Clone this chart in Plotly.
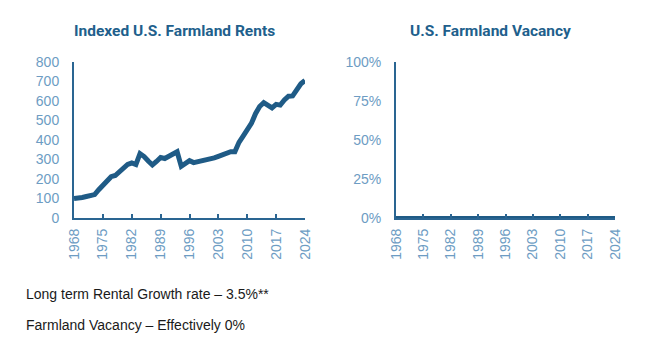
import plotly.graph_objects as go

years = list(range(1968, 2025))
rent_index = [100, 101, 105, 110, 115, 120, 145, 168, 190, 212,
              218, 240, 262, 275, 282, 274, 330, 315, 292, 272,
              290, 310, 305, 316, 328, 340, 265, 280, 294, 284,
              288, 293, 297, 302, 308, 316, 325, 336, 340, 340,
              388, 420, 450, 485, 535, 572, 592, 578, 565, 583,
              579, 605, 625, 626, 660, 688, 705]
vacancy = [0.0] * len(years)

left_title = "Indexed U.S. Farmland Rents"
right_title = "U.S. Farmland Vacancy"
note1 = "Long term Rental Growth rate – 3.5%**"
note2 = "Farmland Vacancy – Effectively 0%"
x_ticks = [1968, 1975, 1982, 1989, 1996, 2003, 2010, 2017, 2024]
rent_ticks = [0, 100, 200, 300, 400, 500, 600, 700, 800]
vac_ticks = [0, 0.25, 0.5, 0.75, 1.0]
vac_labels = ["0%", "25%", "50%", "75%", "100%"]

LINE = "#1f5b86"
AXIS = "#2a6592"
TICKLBL = "#6d9cc3"
TITLE = "#215f8c"

fig = go.Figure()
fig.add_trace(go.Scatter(x=years, y=rent_index, mode="lines",
                         line=dict(color=LINE, width=5), xaxis="x", yaxis="y",
                         showlegend=False, hoverinfo="x+y"))
fig.add_trace(go.Scatter(x=years, y=vacancy, mode="lines",
                         line=dict(color=LINE, width=4), xaxis="x2", yaxis="y2",
                         showlegend=False))

ydom = [1 - 218 / 348, 1 - 62 / 348]
common_x = dict(range=[1968, 2024], tickvals=x_ticks, tickangle=-90,
                showline=True, linecolor=AXIS, linewidth=2, ticks="inside",
                ticklen=4, tickwidth=1.5, tickcolor=AXIS, showgrid=False,
                zeroline=False, automargin=False, ticklabelstandoff=3,
                tickfont=dict(family="Liberation Sans", size=14, color=TICKLBL))
common_y = dict(showline=True, linecolor=AXIS, linewidth=2, ticks="",
                showgrid=False, zeroline=False, automargin=False,
                ticklabelstandoff=10,
                tickfont=dict(family="Liberation Sans", size=14, color=TICKLBL))

fig.update_layout(
    width=661, height=348,
    margin=dict(l=0, r=0, t=0, b=0, autoexpand=False),
    paper_bgcolor="white", plot_bgcolor="white",
    xaxis=dict(domain=[74 / 661, 305 / 661], anchor="y", **common_x),
    yaxis=dict(domain=ydom, anchor="x", range=[0, 800], tickvals=rent_ticks, **common_y),
    xaxis2=dict(domain=[396 / 661, 615 / 661], anchor="y2", **common_x),
    yaxis2=dict(domain=ydom, anchor="x2", range=[0, 1], tickvals=vac_ticks,
                ticktext=vac_labels, **common_y),
)

title_font = dict(family="Roboto", size=15.5, color=TITLE, weight="bold")
fig.add_annotation(text=left_title, x=174 / 661, y=1 - 31 / 348,
                   xref="paper", yref="paper", showarrow=False, font=title_font,
                   xanchor="center", yanchor="middle")
fig.add_annotation(text=right_title, x=490 / 661, y=1 - 31 / 348,
                   xref="paper", yref="paper", showarrow=False, font=title_font,
                   xanchor="center", yanchor="middle")
note_font = dict(family="Liberation Sans", size=14, color="#1a1a1a")
fig.add_annotation(text=note1, x=24 / 661, y=1 - 294 / 348, xref="paper", yref="paper",
                   showarrow=False, font=note_font, xanchor="left", yanchor="middle")
fig.add_annotation(text=note2, x=24 / 661, y=1 - 325 / 348, xref="paper", yref="paper",
                   showarrow=False, font=note_font, xanchor="left", yanchor="middle")

fig.write_html("out.html")
